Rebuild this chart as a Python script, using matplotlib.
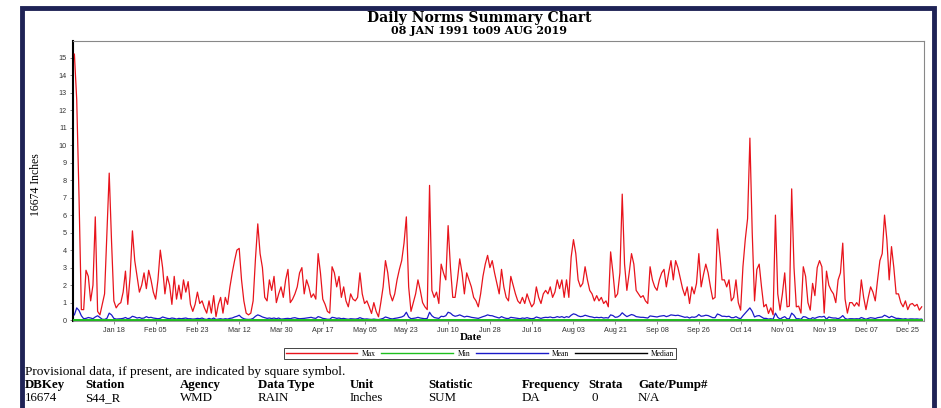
import matplotlib
matplotlib.use("Agg")
import matplotlib.pyplot as plt
from matplotlib.lines import Line2D
from matplotlib.patches import Rectangle
import numpy as np
from datetime import datetime

# ---------------- data ----------------
max_vals = [
    15.2, 12.6, 7.0, 0.6, 0.6, 2.85, 2.5, 1.1, 2.0, 5.9,
    0.5, 0.3, 0.9, 1.5, 4.9, 8.4, 4.5, 1.1, 0.7, 0.9,
    1.0, 1.6, 2.8, 0.9, 2.5, 5.1, 3.4, 2.5, 1.6, 2.0,
    2.7, 1.8, 2.85, 2.3, 1.6, 1.2, 2.3, 4.0, 3.0, 1.5,
    2.5, 2.0, 0.9, 2.5, 1.2, 2.0, 1.2, 2.3, 1.6, 2.2,
    0.9, 0.5, 0.9, 1.6, 0.95, 1.1, 0.7, 0.4, 1.1, 0.4,
    1.4, 0.2, 0.9, 1.3, 0.4, 1.3, 0.9, 1.9, 2.7, 3.4,
    4.0, 4.1, 2.3, 1.1, 0.4, 0.3, 0.4, 1.1, 3.5, 5.5,
    3.8, 3.0, 1.3, 1.1, 2.3, 1.7, 2.5, 1.0, 1.5, 1.9,
    1.3, 2.3, 2.9, 1.0, 1.2, 1.5, 1.9, 2.7, 3.0, 1.5,
    2.3, 1.9, 1.3, 1.5, 1.2, 3.8, 2.7, 1.2, 0.9, 0.5,
    0.4, 3.05, 2.7, 1.9, 2.5, 1.3, 1.9, 1.1, 0.76, 1.5,
    1.2, 1.1, 1.3, 2.7, 1.5, 0.95, 1.1, 0.76, 0.38, 1.0,
    0.5, 0.19, 1.0, 1.9, 3.4, 2.7, 1.5, 1.1, 1.5, 2.3,
    2.9, 3.4, 4.4, 5.9, 1.9, 0.5, 1.0, 1.5, 2.3, 1.7,
    1.0, 0.76, 0.6, 7.7, 1.7, 1.3, 1.6, 0.95, 3.2, 2.7,
    2.3, 5.4, 3.0, 1.3, 1.3, 2.3, 3.5, 2.7, 1.5, 2.7,
    2.3, 1.9, 1.3, 1.1, 0.76, 1.5, 2.5, 3.2, 3.7, 3.0,
    3.4, 2.7, 2.1, 1.5, 2.9, 1.9, 1.3, 1.1, 2.5, 2.0,
    1.5, 1.1, 0.95, 1.3, 0.95, 1.5, 1.1, 0.76, 0.95, 1.9,
    1.3, 0.95, 1.5, 1.7, 1.5, 1.9, 1.3, 1.6, 2.3, 1.8,
    2.3, 1.3, 2.3, 1.3, 3.6, 4.6, 3.8, 2.3, 1.9, 2.1,
    3.05, 2.3, 1.7, 1.5, 1.1, 1.4, 1.1, 1.3, 0.95, 1.1,
    0.76, 3.9, 2.7, 1.3, 1.5, 2.7, 7.2, 3.2, 1.7, 2.7,
    3.8, 3.2, 1.7, 1.5, 1.3, 1.4, 1.1, 0.95, 3.05, 2.3,
    1.9, 1.7, 2.3, 2.7, 2.9, 1.9, 2.7, 3.4, 2.3, 3.4,
    3.0, 2.4, 1.8, 1.4, 1.9, 0.95, 1.9, 1.5, 2.1, 3.8,
    1.9, 2.6, 3.2, 2.7, 1.9, 1.2, 1.3, 5.2, 3.8, 2.3,
    2.3, 1.9, 2.3, 1.1, 1.3, 2.3, 1.0, 0.57, 3.05, 4.6,
    5.8, 10.4, 5.0, 1.1, 2.9, 3.2, 1.9, 0.76, 0.9, 0.38,
    0.7, 0.3, 6.0, 1.5, 0.57, 1.5, 2.7, 0.76, 0.8, 7.5,
    3.0, 0.76, 0.8, 0.4, 3.05, 2.5, 1.0, 0.57, 2.1, 1.4,
    3.0, 3.4, 3.05, 0.4, 2.8, 2.0, 1.7, 1.5, 1.0, 2.3,
    2.7, 4.4, 1.2, 0.4, 1.0, 1.0, 0.8, 1.0, 0.8, 2.3,
    1.3, 0.6, 1.3, 1.9, 1.6, 1.1, 2.3, 3.4, 3.8, 6.0,
    4.6, 2.3, 4.2, 3.0, 1.5, 1.5, 1.0, 0.76, 1.1, 0.6,
    0.9, 0.95, 0.8, 0.9, 0.57, 0.76,
]

mean_vals = [
    0.30, 0.70, 0.55, 0.25, 0.08, 0.10, 0.15, 0.12, 0.08, 0.18,
    0.25, 0.15, 0.05, 0.04, 0.10, 0.40, 0.30, 0.10, 0.06, 0.07,
    0.08, 0.10, 0.15, 0.08, 0.12, 0.22, 0.18, 0.12, 0.15, 0.10,
    0.12, 0.20, 0.14, 0.16, 0.12, 0.10, 0.08, 0.10, 0.18, 0.14,
    0.10, 0.08, 0.12, 0.10, 0.06, 0.10, 0.08, 0.10, 0.12, 0.08,
    0.08, 0.06, 0.07, 0.10, 0.08, 0.12, 0.06, 0.04, 0.10, 0.05,
    0.12, 0.04, 0.06, 0.08, 0.05, 0.08, 0.06, 0.10, 0.12, 0.18,
    0.22, 0.28, 0.15, 0.08, 0.05, 0.04, 0.05, 0.10, 0.22, 0.30,
    0.25, 0.18, 0.14, 0.10, 0.12, 0.09, 0.12, 0.08, 0.12, 0.06,
    0.07, 0.09, 0.10, 0.08, 0.12, 0.14, 0.10, 0.08, 0.09, 0.10,
    0.12, 0.14, 0.16, 0.12, 0.10, 0.20, 0.16, 0.10, 0.08, 0.05,
    0.05, 0.16, 0.14, 0.10, 0.12, 0.08, 0.10, 0.07, 0.05, 0.08,
    0.07, 0.06, 0.08, 0.14, 0.09, 0.06, 0.07, 0.05, 0.04, 0.06,
    0.04, 0.03, 0.06, 0.10, 0.18, 0.14, 0.09, 0.07, 0.10, 0.12,
    0.15, 0.18, 0.25, 0.45, 0.18, 0.08, 0.10, 0.12, 0.16, 0.12,
    0.10, 0.08, 0.10, 0.45, 0.25, 0.15, 0.12, 0.10, 0.22, 0.20,
    0.25, 0.45, 0.40, 0.28, 0.22, 0.25, 0.30, 0.24, 0.18, 0.22,
    0.20, 0.16, 0.14, 0.12, 0.10, 0.15, 0.20, 0.24, 0.30, 0.26,
    0.25, 0.20, 0.16, 0.12, 0.20, 0.14, 0.10, 0.09, 0.16, 0.14,
    0.12, 0.10, 0.08, 0.12, 0.10, 0.14, 0.10, 0.08, 0.10, 0.18,
    0.14, 0.10, 0.14, 0.16, 0.15, 0.18, 0.14, 0.15, 0.20, 0.16,
    0.20, 0.14, 0.20, 0.16, 0.28, 0.36, 0.32, 0.24, 0.20, 0.22,
    0.28, 0.24, 0.20, 0.18, 0.14, 0.16, 0.14, 0.16, 0.12, 0.14,
    0.12, 0.30, 0.26, 0.16, 0.18, 0.26, 0.42, 0.30, 0.20, 0.26,
    0.32, 0.28, 0.20, 0.18, 0.16, 0.16, 0.14, 0.12, 0.24, 0.22,
    0.20, 0.18, 0.22, 0.24, 0.26, 0.20, 0.24, 0.30, 0.28, 0.26,
    0.28, 0.24, 0.20, 0.16, 0.18, 0.12, 0.18, 0.16, 0.20, 0.32,
    0.22, 0.24, 0.28, 0.26, 0.20, 0.14, 0.14, 0.35, 0.30, 0.22,
    0.22, 0.20, 0.22, 0.14, 0.14, 0.20, 0.12, 0.08, 0.25, 0.40,
    0.55, 0.70, 0.50, 0.18, 0.24, 0.26, 0.18, 0.10, 0.10, 0.06,
    0.08, 0.05, 0.40, 0.16, 0.06, 0.14, 0.20, 0.08, 0.08, 0.40,
    0.28, 0.08, 0.08, 0.05, 0.20, 0.18, 0.10, 0.06, 0.14, 0.10,
    0.16, 0.20, 0.18, 0.22, 0.05, 0.18, 0.14, 0.12, 0.12, 0.08,
    0.14, 0.26, 0.10, 0.05, 0.08, 0.08, 0.07, 0.08, 0.07, 0.15,
    0.10, 0.05, 0.10, 0.14, 0.12, 0.09, 0.14, 0.16, 0.18, 0.28,
    0.22, 0.14, 0.22, 0.16, 0.10, 0.10, 0.08, 0.06, 0.08, 0.05,
    0.07, 0.07, 0.06, 0.07, 0.05, 0.06,
]

n_days = len(max_vals)
min_vals = [0.0] * n_days
median_vals = [0.0] * n_days

tick_labels = ["Jan 18", "Feb 05", "Feb 23", "Mar 12", "Mar 30", "Apr 17",
               "May 05", "May 23", "Jun 10", "Jun 28", "Jul 16", "Aug 03",
               "Aug 21", "Sep 08", "Sep 26", "Oct 14", "Nov 01", "Nov 19",
               "Dec 07", "Dec 25"]
y_ticks = list(range(0, 16))

title = "Daily Norms Summary Chart"
subtitle = "08 JAN 1991 to09 AUG 2019"
y_label = "16674 Inches"
x_label = "Date"
note = "Provisional data, if present, are indicated by square symbol."
info_headers = ["DBKey", "Station", "Agency", "Data Type", "Unit", "Statistic",
                "Frequency", "Strata", "Gate/Pump#"]
info_values = ["16674", "S44_R", "WMD", "RAIN", "Inches", "SUM", "DA", "0", "N/A"]

# ---------------- figure ----------------
W, H = 941, 408
fig = plt.figure(figsize=(W / 100, H / 100), dpi=100)
fig.patch.set_facecolor("white")

def fx(px):
    return px / W

def fy(py):
    return 1 - py / H

serif = ["Liberation Serif", "DejaVu Serif"]
wide_serif = ["DejaVu Serif", "Liberation Serif"]
sans = ["Liberation Sans", "DejaVu Sans"]

# navy frame
fig.patches.append(Rectangle((fx(22), fy(420)), fx(934) - fx(22), fy(8) - fy(420),
                             transform=fig.transFigure, fill=False,
                             edgecolor="#1f2356", linewidth=3.5, zorder=0))

ax = fig.add_axes([fx(73), fy(321), fx(924) - fx(73), fy(41) - fy(321)])
days = np.arange(n_days)

ax.plot(days, median_vals, color="black", lw=0.9, zorder=2)
ax.plot(days, max_vals, color="#e8141c", lw=0.9, zorder=3)
ax.plot(days, mean_vals, color="#1a1ac8", lw=0.9, zorder=4)
ax.plot(days, min_vals, color="#1fbf1f", lw=1.4, zorder=5)

ax.set_xlim(-0.6, 366)
ax.set_ylim(-0.05, 15.95)

tick_pos = [datetime.strptime(t + " 2020", "%b %d %Y").timetuple().tm_yday - 1
            for t in tick_labels]
ax.set_xticks(tick_pos)
ax.set_xticklabels(tick_labels, fontsize=5.2, family=sans, color="#333333")
ax.set_yticks(y_ticks)
ax.set_yticklabels([str(v) for v in y_ticks], fontsize=5.2, family=sans, color="#333333")
ax.tick_params(axis="both", length=2.5, width=0.6, color="#777777", pad=2)

for s in ("top", "right"):
    ax.spines[s].set_color("#888888")
    ax.spines[s].set_linewidth(0.8)
ax.spines["bottom"].set_color("#888888")
ax.spines["bottom"].set_linewidth(0.6)
ax.spines["left"].set_color("black")
ax.spines["left"].set_linewidth(1.5)

# titles
fig.text(fx(479), fy(18), title, ha="center", va="center", fontsize=10,
         fontweight="bold", family=wide_serif)
fig.text(fx(479), fy(31), subtitle, ha="center", va="center", fontsize=8,
         fontweight="bold", family=wide_serif)
fig.text(fx(36), fy(185), y_label, ha="center", va="center", rotation=90,
         fontsize=8.5, family=serif)
fig.text(fx(471), fy(338), x_label, ha="center", va="center", fontsize=8,
         fontweight="bold", family=serif)

# legend
handles = [Line2D([], [], color="#e8141c", lw=1.0),
           Line2D([], [], color="#1fbf1f", lw=1.0),
           Line2D([], [], color="#1a1ac8", lw=1.0),
           Line2D([], [], color="black", lw=1.0)]
leg = fig.legend(handles, ["Max", "Min", "Mean", "Median"], ncol=4,
                 loc="center", bbox_to_anchor=(fx(480), fy(353.5)),
                 prop={"family": serif, "size": 5.5}, handlelength=9.4,
                 handletextpad=0.6, columnspacing=0.7, borderpad=0.25,
                 fancybox=False, edgecolor="#444444", framealpha=1)
leg.get_frame().set_linewidth(0.7)

# info block
fig.text(fx(25), fy(375), note, ha="left", va="baseline", fontsize=9.6, family=serif)
col_x = [25, 85, 180, 258, 350, 428, 522, 588, 638]
val_x = [25, 85, 180, 258, 350, 428, 522, 592, 638]
for x, h in zip(col_x, info_headers):
    fig.text(fx(x), fy(388), h, ha="left", va="baseline", fontsize=9.3,
             fontweight="bold", family=serif)
for x, v in zip(val_x, info_values):
    fig.text(fx(x), fy(401), v, ha="left", va="baseline", fontsize=9.3, family=serif)

fig.savefig("out.png", dpi=100, facecolor="white")
